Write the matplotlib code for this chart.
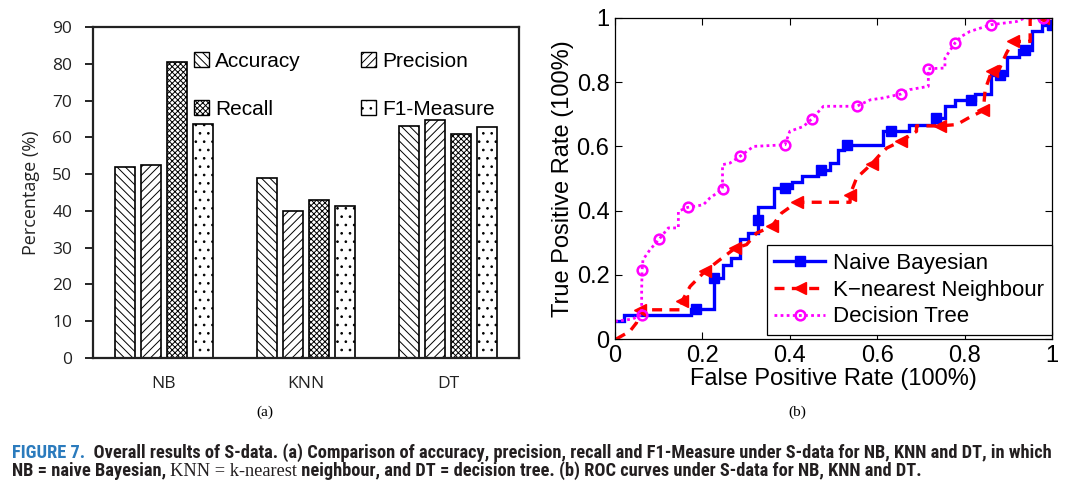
import matplotlib
matplotlib.use("Agg")
import matplotlib.pyplot as plt
from matplotlib.lines import Line2D
from matplotlib.patches import Patch
from matplotlib import font_manager
from matplotlib.transforms import IdentityTransform

# ---- data (a) ----
grupos = ["NB", "KNN", "DT"]
metricas = ["Accuracy", "Precision", "Recall", "F1-Measure"]
accuracy = [51.9, 49.0, 63.1]
precision = [52.4, 40.0, 64.6]
recall = [80.6, 43.0, 60.9]
f1 = [63.6, 41.3, 62.8]
y_ticks = [0, 10, 20, 30, 40, 50, 60, 70, 80, 90]

# ---- data (b) ROC ----
nb_fpr = [0.000, 0.020, 0.020, 0.175, 0.175, 0.185, 0.227, 0.227, 0.248, 0.248, 0.266, 0.266,
          0.286, 0.286, 0.305, 0.305, 0.328, 0.328, 0.328, 0.364, 0.364, 0.389, 0.404, 0.404,
          0.427, 0.427, 0.465, 0.465, 0.471, 0.492, 0.492, 0.511, 0.511, 0.525, 0.525, 0.532,
          0.613, 0.613, 0.632, 0.672, 0.672, 0.730, 0.730, 0.735, 0.756, 0.756, 0.777, 0.777,
          0.815, 0.824, 0.824, 0.860, 0.860, 0.880, 0.896, 0.896, 0.925, 0.925, 0.938, 0.955,
          0.955, 0.978, 0.978, 1.000]
nb_tpr = [0.055, 0.055, 0.076, 0.076, 0.093, 0.093, 0.093, 0.190, 0.190, 0.230, 0.230, 0.252,
          0.252, 0.310, 0.310, 0.330, 0.330, 0.372, 0.410, 0.410, 0.470, 0.470, 0.470, 0.488,
          0.488, 0.507, 0.507, 0.527, 0.527, 0.527, 0.548, 0.548, 0.588, 0.588, 0.605, 0.605,
          0.605, 0.647, 0.647, 0.647, 0.668, 0.668, 0.688, 0.688, 0.688, 0.725, 0.725, 0.745,
          0.745, 0.745, 0.762, 0.762, 0.822, 0.822, 0.822, 0.880, 0.880, 0.901, 0.901, 0.901,
          0.958, 0.958, 0.979, 0.979]
nb_mk_fpr = [0.185, 0.227, 0.328, 0.389, 0.471, 0.532, 0.632, 0.735, 0.815, 0.880, 0.938, 1.000]
nb_mk_tpr = [0.093, 0.190, 0.372, 0.470, 0.527, 0.605, 0.647, 0.688, 0.745, 0.822, 0.901, 0.979]

knn_fpr = [0.003, 0.034, 0.049, 0.057, 0.152, 0.153, 0.172, 0.206, 0.240, 0.275, 0.301, 0.324,
           0.359, 0.381, 0.416, 0.538, 0.538, 0.553, 0.587, 0.606, 0.622, 0.654, 0.690, 0.690,
           0.744, 0.782, 0.808, 0.843, 0.847, 0.862, 0.877, 0.896, 0.911, 0.950, 0.950, 0.980,
           1.000]
knn_tpr = [0.000, 0.024, 0.050, 0.091, 0.091, 0.117, 0.164, 0.211, 0.247, 0.283, 0.294, 0.330,
           0.351, 0.392, 0.426, 0.426, 0.450, 0.502, 0.545, 0.574, 0.595, 0.616, 0.647, 0.664,
           0.664, 0.668, 0.688, 0.712, 0.777, 0.834, 0.834, 0.891, 0.927, 0.927, 1.000, 1.000,
           1.000]
knn_mk_fpr = [0.057, 0.153, 0.206, 0.275, 0.359, 0.416, 0.538, 0.587, 0.654, 0.744, 0.843, 0.862, 0.911, 0.980]
knn_mk_tpr = [0.091, 0.117, 0.211, 0.283, 0.351, 0.426, 0.450, 0.545, 0.616, 0.664, 0.712, 0.834, 0.927, 1.000]

dt_fpr = [0.000, 0.040, 0.061, 0.061, 0.062, 0.064, 0.080, 0.101, 0.122, 0.145, 0.145, 0.166,
          0.202, 0.217, 0.246, 0.246, 0.246, 0.263, 0.286, 0.317, 0.389, 0.400, 0.431, 0.450,
          0.477, 0.553, 0.584, 0.614, 0.654, 0.675, 0.717, 0.717, 0.717, 0.755, 0.755, 0.778,
          0.793, 0.812, 0.860, 0.919, 0.938, 0.979, 1.000]
dt_tpr = [0.055, 0.062, 0.076, 0.154, 0.214, 0.247, 0.278, 0.311, 0.346, 0.346, 0.398, 0.410,
          0.418, 0.439, 0.467, 0.486, 0.543, 0.548, 0.569, 0.600, 0.605, 0.647, 0.662, 0.685,
          0.725, 0.725, 0.745, 0.751, 0.763, 0.777, 0.787, 0.818, 0.842, 0.844, 0.875, 0.922,
          0.943, 0.958, 0.979, 0.989, 1.000, 1.000, 1.000]
dt_mk_fpr = [0.061, 0.062, 0.101, 0.166, 0.246, 0.286, 0.389, 0.450, 0.553, 0.654, 0.717, 0.778, 0.860, 0.979]
dt_mk_tpr = [0.076, 0.214, 0.311, 0.410, 0.467, 0.569, 0.605, 0.685, 0.725, 0.763, 0.842, 0.922, 0.979, 1.000]
roc_ticks = [0, 0.2, 0.4, 0.6, 0.8, 1]
roc_labels = ["0", "0.2", "0.4", "0.6", "0.8", "1"]


def fuente_disponible(nombres):
    for n in nombres:
        try:
            font_manager.findfont(font_manager.FontProperties(family=n), fallback_to_default=False)
            return n
        except Exception:
            pass
    return "DejaVu Sans"


plt.rcParams["hatch.linewidth"] = 0.7
fig = plt.figure(figsize=(10.66, 4.9), dpi=100)

# --- (a) barras ---
ax1 = fig.add_axes([93 / 1066, 132 / 490, 426 / 1066, 331 / 490])
series = [accuracy, precision, recall, f1]
hatches = ["\\\\\\\\", "////", "xxxxxx", ".."]
ancho = 0.14
paso = 0.182
for i, (vals, h, nombre) in enumerate(zip(series, hatches, metricas)):
    xs = [g + 1 + (i - 1.5) * paso for g in range(len(grupos))]
    ax1.bar(xs, vals, width=ancho, color="white", edgecolor="black",
            linewidth=1.2, hatch=h, label=nombre)
ax1.set_xlim(0.5, 3.5)
ax1.set_ylim(0, 90)
ax1.set_yticks(y_ticks)
ax1.set_xticks([1, 2, 3])
ax1.set_xticklabels(grupos, family="Open Sans", fontsize=12.5, color="#222222")
for lab in ax1.get_yticklabels():
    lab.set_family("Open Sans")
    lab.set_fontsize(12.5)
    lab.set_color("#222222")
ax1.tick_params(axis="x", length=0, pad=13)
ax1.tick_params(axis="y", direction="out", length=6, width=1.2, pad=9)
ax1.set_ylabel("Percentage (%)", family="Open Sans", fontsize=13, labelpad=9, color="#222222")
for s in ax1.spines.values():
    s.set_linewidth(1.6)
    s.set_color("#222222")
# orden por columnas para que las filas queden: Accuracy/Precision, Recall/F1-Measure
orden = [0, 2, 1, 3]
handles_a = [Patch(facecolor="white", edgecolor="black", hatch=hatches[k], linewidth=1.0) for k in orden]
leg1 = ax1.legend(handles_a, [metricas[k] for k in orden], ncol=2, frameon=False, loc="upper left",
                  bbox_to_anchor=(0.237, 0.925), borderaxespad=0, borderpad=0,
                  prop={"family": "Liberation Sans", "size": 15},
                  handlelength=0.7, handleheight=0.7, handletextpad=0.3,
                  columnspacing=2.9, labelspacing=1.4)
fig.text(265 / 1066, 1 - 412 / 490, "(a)", family="Liberation Serif", fontsize=11,
         ha="center", va="center")

# --- (b) ROC ---
ax2 = fig.add_axes([615 / 1066, 151 / 490, 437 / 1066, 321 / 490])
ax2.plot(nb_fpr, nb_tpr, color="#0000ff", lw=2.4, solid_joinstyle="miter")
ax2.plot(nb_mk_fpr, nb_mk_tpr, ls="none", marker="s", ms=7, color="#0000ff")
ax2.plot(knn_fpr, knn_tpr, color="#ff0000", lw=2.4, ls=(0, (3, 2.2)))
ax2.plot(knn_mk_fpr, knn_mk_tpr, ls="none", marker="<", ms=8, color="#ff0000")
ax2.plot(dt_fpr, dt_tpr, color="#ff00ff", lw=2.0, ls=(0, (1, 1.2)))
ax2.plot(dt_mk_fpr, dt_mk_tpr, ls="none", marker="o", ms=7, mfc="none", mec="#ff00ff", mew=1.8)
ax2.set_xlim(0, 1)
ax2.set_ylim(0, 1)
ax2.set_xticks(roc_ticks)
ax2.set_xticklabels(roc_labels)
ax2.set_yticks(roc_ticks)
ax2.set_yticklabels(roc_labels)
ax2.tick_params(direction="in", length=5, width=0.8, top=True, right=True, pad=4,
                labelsize=17)
for lab in ax2.get_xticklabels() + ax2.get_yticklabels():
    lab.set_family("Liberation Sans")
ax2.set_xlabel("False Positive Rate (100%)", family="Liberation Sans", fontsize=17, labelpad=1)
ax2.set_ylabel("True Positive Rate (100%)", family="Liberation Sans", fontsize=17, labelpad=2)
for s in ax2.spines.values():
    s.set_linewidth(0.9)
handles_b = [
    Line2D([], [], color="#0000ff", lw=2.4, marker="s", ms=7),
    Line2D([], [], color="#ff0000", lw=2.4, ls=(0, (3, 2.2)), marker="<", ms=8),
    Line2D([], [], color="#ff00ff", lw=2.0, ls=(0, (1, 1.2)), marker="o", ms=7, mfc="none", mew=1.8),
]
leg2 = ax2.legend(handles_b, ["Naive Bayesian", "K\u2212nearest Neighbour", "Decision Tree"],
                  loc="lower right", bbox_to_anchor=(1.0, 0.012), borderaxespad=0,
                  prop={"family": "Liberation Sans", "size": 16}, fancybox=False,
                  edgecolor="black", framealpha=1, handlelength=2.3, handletextpad=0.35,
                  labelspacing=0.25, borderpad=0.35)
leg2.get_frame().set_linewidth(0.9)
fig.text(797 / 1066, 1 - 412 / 490, "(b)", family="Liberation Serif", fontsize=11,
         ha="center", va="center")

# --- pie de figura ---
narrow = fuente_disponible(["Liberation Sans Narrow", "Roboto Condensed", "Open Sans Condensed",
                            "Liberation Sans"])
azul = "#2b7bbd"
oscuro = "#231f20"
tam = 13.2
linea1 = [("FIGURE 7.", azul, narrow, "bold"),
          ("  Overall results of S-data. (a) Comparison of accuracy, precision, recall and "
           "F1-Measure under S-data for NB, KNN and DT, in which", oscuro, narrow, "bold")]
linea2 = [("NB = naive Bayesian, ", oscuro, narrow, "bold"),
          ("KNN = k-nearest", oscuro, "Liberation Serif", "normal"),
          (" neighbour, and DT = decision tree. (b) ROC curves under S-data for NB, KNN and DT.",
           oscuro, narrow, "bold")]
renderer = fig.canvas.get_renderer()
for y_px, piezas in [(490 - 453, linea1), (490 - 471, linea2)]:
    x_px = 12
    for texto, col, fam, peso in piezas:
        t = fig.text(x_px, y_px, texto, transform=IdentityTransform(), color=col,
                     family=fam, fontweight=peso, fontsize=tam, va="center", ha="left")
        bb = t.get_window_extent(renderer)
        x_px = bb.x1

fig.savefig("out.png", dpi=100)
